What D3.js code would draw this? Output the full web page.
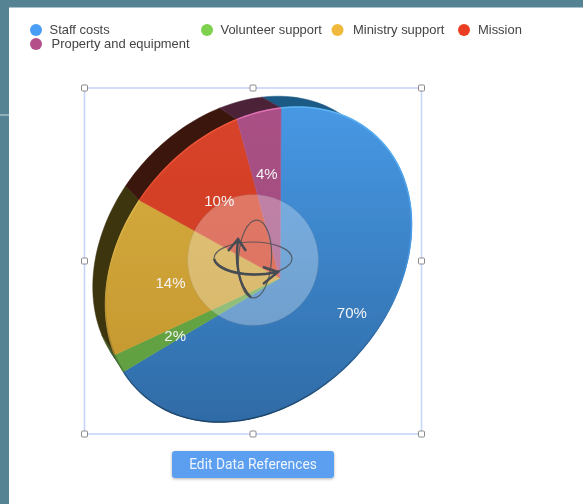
<!DOCTYPE html>
<html>
<head>
<meta charset="utf-8">
<style>
html, body { margin:0; padding:0; background:#fff; }
svg { display:block; }
</style>
</head>
<body>
<div id="chart"></div>
<script src="https://cdn.jsdelivr.net/npm/d3@7/dist/d3.min.js"></script>
<script>
// chart data
var categories = ["Staff costs", "Volunteer support", "Ministry support", "Mission", "Property and equipment"]
var shares = [70, 2, 14, 10, 4]

// colours per category
var legendColors = ["#4a9ff5", "#7ed04f", "#f0b93a", "#ea3e23", "#b5508a"]
var topColors = ["#4798e4", "#6db24a", "#d8ae41", "#d8432a", "#aa5085"]
var bottomColors = ["#2f6ba6", "#5f9c40", "#c2952c", "#c93a20", "#994a7b"]
var sideColors = ["#1f5a86", "#3f5a20", "#3d3410", "#3a120a", "#4c2338"]
var rimColors = ["#5cb4f5", "#8fd06a", "#e8c560", "#f2583a", "#e070b5"]

var width = 583, height = 504

var svg = d3.select("#chart").append("svg")
	.attr("width", width)
	.attr("height", height)
	.style("font-family", "'Liberation Sans', Arial, sans-serif")

var defs = svg.append("defs")
defs.append("filter").attr("id", "soft").append("feGaussianBlur").attr("stdDeviation", 0.55)
var shadow = defs.append("filter").attr("id", "btnshadow")
	.attr("x", "-10%").attr("y", "-20%").attr("width", "120%").attr("height", "150%")
shadow.append("feDropShadow").attr("dx", 0).attr("dy", 1).attr("stdDeviation", 1.5)
	.attr("flood-color", "#000").attr("flood-opacity", 0.3)

var root = svg.append("g").attr("filter", "url(#soft)")

// window background behind the sheet
root.append("rect").attr("x", -2).attr("y", -2).attr("width", width + 4).attr("height", 9.5).attr("fill", "#558393")
root.append("rect").attr("x", -2).attr("y", -2).attr("width", 11).attr("height", height + 4).attr("fill", "#558393")
root.append("rect").attr("x", 0).attr("y", 114.5).attr("width", 9).attr("height", 1).attr("fill", "#c9dbe0")

// legend
var legendX = [36, 207, 337.5, 464, 36]
var legendY = [30, 30, 30, 30, 44]
var legendTextX = [49.5, 220.5, 353, 478, 51.5]
var legend = root.append("g").selectAll("g").data(categories).enter().append("g")
legend.append("circle")
	.attr("cx", (d, i) => legendX[i])
	.attr("cy", (d, i) => legendY[i])
	.attr("r", 6)
	.attr("fill", (d, i) => legendColors[i])
legend.append("text")
	.attr("x", (d, i) => legendTextX[i])
	.attr("y", (d, i) => legendY[i] + 4.3)
	.attr("font-size", 12.95)
	.attr("fill", "#444")
	.text(d => d)

// selection frame
var frame = {x0:84.5, y0:88, x1:421.5, y1:434}
root.append("rect")
	.attr("x", frame.x0).attr("y", frame.y0)
	.attr("width", frame.x1 - frame.x0).attr("height", frame.y1 - frame.y0)
	.attr("fill", "none").attr("stroke", "#c6d5fb").attr("stroke-width", 1.6)

// tilted disc: unit circle through a perspective transform
var hub = [280, 278]
function project(x, y) {
	var w = 1 + 0.14 * x - 0.126 * y
	return [(hub[0] + 188 * x - 34.4 * y) / w, (hub[1] - 2 * x - 183.6 * y) / w]
}
function onDisc(angle, r) {
	return project(r * Math.sin(angle), r * Math.cos(angle))
}
// far side of the disc sits up-left and a little smaller
var depth = [-19, -17], shrink = 0.036
function backPoint(p) {
	return [p[0] + depth[0] - shrink * (p[0] - hub[0]), p[1] + depth[1] - shrink * (p[1] - hub[1])]
}
var line = d3.line()

var arcs = d3.pie().sort(null).value(d => d)(shares)

function rimPoints(d) {
	var n = Math.max(4, Math.round((d.endAngle - d.startAngle) * 40))
	return d3.range(n + 1).map(i => {
		var a = d.startAngle + (d.endAngle - d.startAngle) * i / n
		return onDisc(a, 1)
	})
}

// gradients
arcs.forEach((d, i) => {
	var g = defs.append("linearGradient").attr("id", "face" + i)
		.attr("gradientUnits", "userSpaceOnUse")
		.attr("x1", 0).attr("y1", 108).attr("x2", 0).attr("y2", 422)
	g.append("stop").attr("offset", "0%").attr("stop-color", topColors[i])
	g.append("stop").attr("offset", "100%").attr("stop-color", bottomColors[i])
	var r = defs.append("linearGradient").attr("id", "rim" + i)
		.attr("gradientUnits", "userSpaceOnUse")
		.attr("x1", 0).attr("y1", 108).attr("x2", 0).attr("y2", 422)
	r.append("stop").attr("offset", "0%").attr("stop-color", rimColors[i])
	r.append("stop").attr("offset", "45%").attr("stop-color", topColors[i])
	r.append("stop").attr("offset", "100%").attr("stop-color", d3.color(bottomColors[i]).darker(1.3))
})

var pie3d = root.append("g")

// extruded side
pie3d.selectAll("path.side").data(arcs).enter().append("path")
	.attr("class", "side")
	.attr("fill", (d, i) => sideColors[i])
	.attr("stroke", (d, i) => sideColors[i])
	.attr("stroke-width", 0.5)
	.attr("d", d => {
		var front = rimPoints(d)
		var back = front.map(backPoint).reverse()
		return line(front.concat(back)) + "Z"
	})

// top face
pie3d.selectAll("path.face").data(arcs).enter().append("path")
	.attr("class", "face")
	.attr("fill", (d, i) => "url(#face" + i + ")")
	.attr("stroke", (d, i) => "url(#face" + i + ")")
	.attr("stroke-width", 0.6)
	.attr("d", d => line([project(0, 0)].concat(rimPoints(d))) + "Z")

// rim highlight
pie3d.selectAll("path.rim").data(arcs).enter().append("path")
	.attr("class", "rim")
	.attr("fill", "none")
	.attr("stroke", (d, i) => "url(#rim" + i + ")")
	.attr("stroke-width", 1.5)
	.attr("d", d => line(rimPoints(d)))

// percent labels
root.append("g").selectAll("text").data(arcs).enter().append("text")
	.attr("transform", d => {
		var p = onDisc((d.startAngle + d.endAngle) / 2, 0.675)
		return "translate(" + p[0] + "," + (p[1] + 2.5) + ")"
	})
	.attr("text-anchor", "middle")
	.attr("dy", "0.35em")
	.attr("font-size", 15)
	.attr("fill", "#f4f4f4")
	.text(d => d.data + "%")

// rotate control
var rotate = root.append("g")
rotate.append("circle").attr("cx", 253).attr("cy", 260).attr("r", 65.5)
	.attr("fill", "#fff").attr("fill-opacity", 0.29)
	.attr("stroke", "#555").attr("stroke-opacity", 0.12)
var dark = "#474c52"
rotate.append("ellipse").attr("cx", 253).attr("cy", 258.5).attr("rx", 39).attr("ry", 16.5)
	.attr("fill", "none").attr("stroke", dark).attr("stroke-width", 1.2).attr("stroke-opacity", 0.8)
rotate.append("ellipse").attr("cx", 255).attr("cy", 259).attr("rx", 16.5).attr("ry", 39)
	.attr("transform", "rotate(3 255 259)")
	.attr("fill", "none").attr("stroke", dark).attr("stroke-width", 1.2).attr("stroke-opacity", 0.8)
rotate.append("path")
	.attr("d", "M238,240 C235,262 238,285 251,297.5 M228,251 L238,239 L246,251")
	.attr("fill", "none").attr("stroke", dark).attr("stroke-width", 2.4)
rotate.append("path")
	.attr("d", "M214,259 C218,270 245,279 277,272 M263,267 L278,272 L263,284")
	.attr("fill", "none").attr("stroke", dark).attr("stroke-width", 2.4)

// frame handles
var handleX = [frame.x0, (frame.x0 + frame.x1) / 2, frame.x1]
var handleY = [frame.y0, (frame.y0 + frame.y1) / 2, frame.y1]
var handles = []
handleX.forEach((x, i) => handleY.forEach((y, j) => {
	if (i != 1 || j != 1) handles.push([x, y])
}))
root.append("g").selectAll("rect").data(handles).enter().append("rect")
	.attr("x", d => d[0] - 3).attr("y", d => d[1] - 3)
	.attr("width", 6).attr("height", 6).attr("rx", 1)
	.attr("fill", "#fff").attr("stroke", "#8a8a8a").attr("stroke-width", 1)

// button
root.append("rect").attr("x", 172).attr("y", 451).attr("width", 162).attr("height", 27).attr("rx", 3)
	.attr("fill", "#5b9ff0").attr("filter", "url(#btnshadow)")
root.append("text").attr("x", 253).attr("y", 469)
	.attr("text-anchor", "middle").attr("font-size", 13.8)
	.attr("fill", "#eef4fd")
	.style("font-family", "Roboto, sans-serif")
	.text("Edit Data References")
</script>
</body>
</html>
